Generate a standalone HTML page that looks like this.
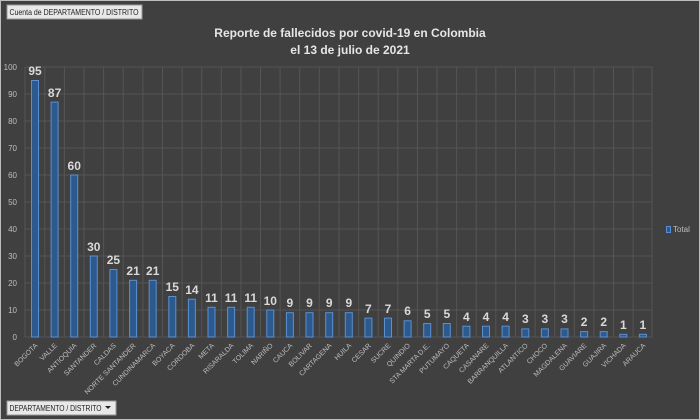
<!DOCTYPE html><html><head><style>body{margin:0;background:#404040}svg{display:block}text{font-family:"Liberation Sans",sans-serif}</style></head><body>
<svg width="700" height="420" viewBox="0 0 700 420" xmlns="http://www.w3.org/2000/svg">
<rect x="0.5" y="0.5" width="699" height="419" fill="#404040" stroke="#bdbdbd"/>
<rect x="7" y="5" width="135" height="14" fill="#e8e8e8" stroke="#999"/>
<text x="9.5" y="15" font-size="8" fill="#222" textLength="129" lengthAdjust="spacingAndGlyphs">Cuenta de DEPARTAMENTO / DISTRITO</text>
<rect x="7" y="401" width="109" height="14" fill="#e8e8e8" stroke="#999"/>
<text x="9.5" y="411" font-size="8" fill="#222" textLength="92" lengthAdjust="spacingAndGlyphs">DEPARTAMENTO / DISTRITO</text>
<path d="M105 406h6l-3 3z" fill="#222"/>
<text x="350" y="37" font-size="12" font-weight="bold" fill="#e6e6e6" text-anchor="middle">Reporte de fallecidos por covid-19 en Colombia</text>
<text x="350" y="54" font-size="12" font-weight="bold" fill="#e6e6e6" text-anchor="middle">el 13 de julio de 2021</text>
<g stroke="#555" stroke-width="1">
<path d="M25 67H652M25 94H652M25 121H652M25 148H652M25 175H652M25 202H652M25 229H652M25 256H652M25 283H652M25 310H652M25 337H652"/>
<path d="M25 67V337M44.8 67V337M64.4 67V337M84 67V337M103.6 67V337M123.2 67V337M142.9 67V337M162.5 67V337M182.1 67V337M201.7 67V337M221.3 67V337M240.9 67V337M260.5 67V337M280.1 67V337M299.7 67V337M319.3 67V337M339 67V337M358.6 67V337M378.2 67V337M397.8 67V337M417.4 67V337M437 67V337M456.6 67V337M476.2 67V337M495.8 67V337M515.5 67V337M535.1 67V337M554.7 67V337M574.3 67V337M593.9 67V337M613.5 67V337M633.1 67V337M652 67V337"/>
</g>
<g font-size="8" fill="#bdbdbd" text-anchor="end">
<text x="17" y="70">100</text><text x="17" y="97">90</text><text x="17" y="124">80</text><text x="17" y="151">70</text><text x="17" y="178">60</text><text x="17" y="205">50</text><text x="17" y="232">40</text><text x="17" y="259">30</text><text x="17" y="286">20</text><text x="17" y="313">10</text><text x="17" y="340">0</text>
</g>
<g fill="#2d5a8e" stroke="#5b8fd0" stroke-width="1">
<rect x="31.5" y="80.5" width="7" height="256.5"/><rect x="51.1" y="102.1" width="7" height="234.9"/><rect x="70.7" y="175" width="7" height="162"/><rect x="90.3" y="256" width="7" height="81"/><rect x="109.9" y="269.5" width="7" height="67.5"/><rect x="129.6" y="280.3" width="7" height="56.7"/><rect x="149.2" y="280.3" width="7" height="56.7"/><rect x="168.8" y="296.5" width="7" height="40.5"/><rect x="188.4" y="299.2" width="7" height="37.8"/><rect x="208" y="307.3" width="7" height="29.7"/><rect x="227.6" y="307.3" width="7" height="29.7"/><rect x="247.2" y="307.3" width="7" height="29.7"/><rect x="266.8" y="310" width="7" height="27"/><rect x="286.4" y="312.7" width="7" height="24.3"/><rect x="306" y="312.7" width="7" height="24.3"/><rect x="325.7" y="312.7" width="7" height="24.3"/><rect x="345.3" y="312.7" width="7" height="24.3"/><rect x="364.9" y="318.1" width="7" height="18.9"/><rect x="384.5" y="318.1" width="7" height="18.9"/><rect x="404.1" y="320.8" width="7" height="16.2"/><rect x="423.7" y="323.5" width="7" height="13.5"/><rect x="443.3" y="323.5" width="7" height="13.5"/><rect x="462.9" y="326.2" width="7" height="10.8"/><rect x="482.5" y="326.2" width="7" height="10.8"/><rect x="502.1" y="326.2" width="7" height="10.8"/><rect x="521.8" y="328.9" width="7" height="8.1"/><rect x="541.4" y="328.9" width="7" height="8.1"/><rect x="561" y="328.9" width="7" height="8.1"/><rect x="580.6" y="331.6" width="7" height="5.4"/><rect x="600.2" y="331.6" width="7" height="5.4"/><rect x="619.8" y="334.3" width="7" height="2.7"/><rect x="639.4" y="334.3" width="7" height="2.7"/>
</g>
<g font-size="12" font-weight="bold" fill="#d9d9d9" text-anchor="middle">
<text x="35" y="75">95</text><text x="54.6" y="97">87</text><text x="74.2" y="170">60</text><text x="93.8" y="251">30</text><text x="113.4" y="264">25</text><text x="133.1" y="275">21</text><text x="152.7" y="275">21</text><text x="172.3" y="291">15</text><text x="191.9" y="294">14</text><text x="211.5" y="302">11</text><text x="231.1" y="302">11</text><text x="250.7" y="302">11</text><text x="270.3" y="305">10</text><text x="289.9" y="307">9</text><text x="309.5" y="307">9</text><text x="329.2" y="307">9</text><text x="348.8" y="307">9</text><text x="368.4" y="313">7</text><text x="388" y="313">7</text><text x="407.6" y="315">6</text><text x="427.2" y="318">5</text><text x="446.8" y="318">5</text><text x="466.4" y="321">4</text><text x="486" y="321">4</text><text x="505.6" y="321">4</text><text x="525.3" y="323">3</text><text x="544.9" y="323">3</text><text x="564.5" y="323">3</text><text x="584.1" y="326">2</text><text x="603.7" y="326">2</text><text x="623.3" y="329">1</text><text x="642.9" y="329">1</text>
</g>
<g font-size="7" fill="#bdbdbd" text-anchor="end">
<text transform="translate(38,346) rotate(-45)">BOGOTA</text><text transform="translate(57.6,346) rotate(-45)">VALLE</text><text transform="translate(77.2,346) rotate(-45)">ANTIOQUIA</text><text transform="translate(96.8,346) rotate(-45)">SANTANDER</text><text transform="translate(116.4,346) rotate(-45)">CALDAS</text><text transform="translate(136.1,346) rotate(-45)">NORTE SANTANDER</text><text transform="translate(155.7,346) rotate(-45)">CUNDINAMARCA</text><text transform="translate(175.3,346) rotate(-45)">BOYACA</text><text transform="translate(194.9,346) rotate(-45)">CORDOBA</text><text transform="translate(214.5,346) rotate(-45)">META</text><text transform="translate(234.1,346) rotate(-45)">RISARALDA</text><text transform="translate(253.7,346) rotate(-45)">TOLIMA</text><text transform="translate(273.3,346) rotate(-45)">NARIÑO</text><text transform="translate(292.9,346) rotate(-45)">CAUCA</text><text transform="translate(312.5,346) rotate(-45)">BOLIVAR</text><text transform="translate(332.2,346) rotate(-45)">CARTAGENA</text><text transform="translate(351.8,346) rotate(-45)">HUILA</text><text transform="translate(371.4,346) rotate(-45)">CESAR</text><text transform="translate(391,346) rotate(-45)">SUCRE</text><text transform="translate(410.6,346) rotate(-45)">QUINDIO</text><text transform="translate(430.2,346) rotate(-45)">STA MARTA D.E.</text><text transform="translate(449.8,346) rotate(-45)">PUTUMAYO</text><text transform="translate(469.4,346) rotate(-45)">CAQUETA</text><text transform="translate(489,346) rotate(-45)">CASANARE</text><text transform="translate(508.6,346) rotate(-45)">BARRANQUILLA</text><text transform="translate(528.3,346) rotate(-45)">ATLANTICO</text><text transform="translate(547.9,346) rotate(-45)">CHOCO</text><text transform="translate(567.5,346) rotate(-45)">MAGDALENA</text><text transform="translate(587.1,346) rotate(-45)">GUAVIARE</text><text transform="translate(606.7,346) rotate(-45)">GUAJIRA</text><text transform="translate(626.3,346) rotate(-45)">VICHADA</text><text transform="translate(645.9,346) rotate(-45)">ARAUCA</text>
</g>
<rect x="666.5" y="226.5" width="4" height="6" fill="#2d5a8e" stroke="#5b8fd0"/>
<text x="673" y="232" font-size="8" fill="#bdbdbd">Total</text>
</svg></body></html>
